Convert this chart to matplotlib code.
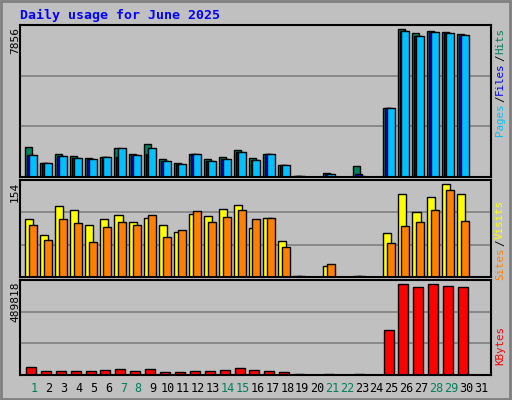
import numpy as np
import matplotlib
matplotlib.use("Agg")
import matplotlib.pyplot as plt

days = np.arange(1, 32)
# values (pixel-unit estimates converted to counts)
U_TOP = 7856 / 455.0
hits_u  = [89,43,70,62,56,59,86,70,98,53,43,70,53,59,80,56,70,35,2,0,13,0,32,0,208,442,430,436,433,427,0]
files_u = [65,43,62,56,53,59,60,65,68,47,40,68,47,53,74,50,68,35,2,0,10,0,10,0,208,437,422,433,430,425,0]
pages_u = [65,43,62,56,53,59,86,65,86,47,40,68,47,53,74,50,68,35,2,0,10,0,4,0,208,437,422,433,430,425,0]
hits  = np.array(hits_u) * U_TOP
files = np.array(files_u) * U_TOP
pages = np.array(pages_u) * U_TOP

U_MID = 154 / 288.0
visits = np.array([172,124,211,199,154,172,184,163,175,154,133,187,181,202,214,145,175,106,2,0,34,0,2,0,130,247,193,238,277,247,0]) * U_MID
sites  = np.array([154,109,172,160,103,148,163,154,184,118,139,196,163,178,199,172,175,88,2,0,40,0,2,0,100,151,163,199,259,166,0]) * U_MID

U_BOT = 489818 / 283.0
kbytes = np.array([24,12,12,12,12,15,18,12,18,9,9,12,12,15,21,15,12,9,2,0,2,0,2,0,134,272,263,272,266,263,0]) * U_BOT

weekend = [1, 7, 8, 14, 15, 21, 22, 28, 29]
BG = "#C0C0C0"
W, H = 512, 400

fig = plt.figure(figsize=(W/100, H/100), dpi=100, facecolor=BG)

def px_axes(x0, y0, x1, y1):
    ax = fig.add_axes([x0/W, 1 - y1/H, (x1-x0)/W, (y1-y0)/H])
    ax.set_facecolor(BG)
    ax.set_xlim(0.06, 31.67)
    ax.set_xticks([]); ax.set_yticks([])
    for s in ax.spines.values():
        s.set_color("black"); s.set_linewidth(1.5)
    return ax

def grid(ax, top):
    for f in (1/3, 2/3):
        ax.axhline(top*f, color="#808080", lw=1.2, zorder=0)

kw = dict(align="edge", edgecolor="black", linewidth=1, zorder=2)

ax1 = px_axes(20, 25, 491, 177)
ax1.set_ylim(0, 7856); grid(ax1, 7856)
ax1.bar(days-0.60, hits, 0.47, color="#00805C", **kw)
ax1.bar(days-0.47, files, 0.47, color="#0000FF", **kw)
ax1.bar(days-0.34, pages, 0.54, color="#00C0FF", **kw)

ax2 = px_axes(20, 180, 491, 277)
ax2.set_ylim(0, 154); grid(ax2, 154)
ax2.bar(days-0.60, visits, 0.54, color="#FFFF00", **kw)
ax2.bar(days-0.34, sites, 0.54, color="#FF8000", **kw)

ax3 = px_axes(20, 280, 491, 375)
ax3.set_ylim(0, 489818); grid(ax3, 489818)
ax3.bar(days-0.54, kbytes, 0.67, color="#FF0000", **kw)

for d in days:
    fig.text((34 + 14.9*(d-1))/W, 1 - 389/H, str(d), ha="center", va="center",
             fontsize=8.5, family="DejaVu Sans Mono",
             color="#00805C" if d in weekend else "black")

fig.text(20/W, 1 - 15/H, "Daily usage for June 2025", color="#0000FF",
         fontsize=9.5, fontweight="bold", family="DejaVu Sans Mono", va="center")

for y, s in ((25, "7856"), (180, "154"), (280, "489818")):
    fig.text(15/W, 1 - (y+2)/H, s, rotation=90, ha="center", va="top",
             fontsize=8, family="DejaVu Sans Mono")

def right_label(parts, ytop):
    # parts drawn bottom-to-top, starting from the top of the panel
    fs = 7.8
    ch = fs * 0.602 * 100 / 72 + 0.3
    total = sum(len(t) for t, _ in parts) * ch
    y = ytop + total
    for t, c in parts:
        fig.text(500/W, 1 - y/H, t, rotation=90, ha="center", va="bottom",
                 fontsize=fs, family="DejaVu Sans Mono", color=c)
        y -= len(t)*ch

right_label([("Pages", "#00C0FF"), ("/", "black"), ("Files", "#0000FF"),
             ("/", "black"), ("Hits", "#00805C")], 27)
right_label([("Sites", "#FF8000"), ("/", "black"), ("Visits", "#FFFF00")], 198)
right_label([("KBytes", "#FF0000")], 324)

# outer border
fig.add_artist(plt.Rectangle((0.002, 0.003), 0.994, 0.994, transform=fig.transFigure,
                             fill=False, edgecolor="#808080", lw=2))

fig.savefig("out.png", dpi=100, facecolor=BG)
